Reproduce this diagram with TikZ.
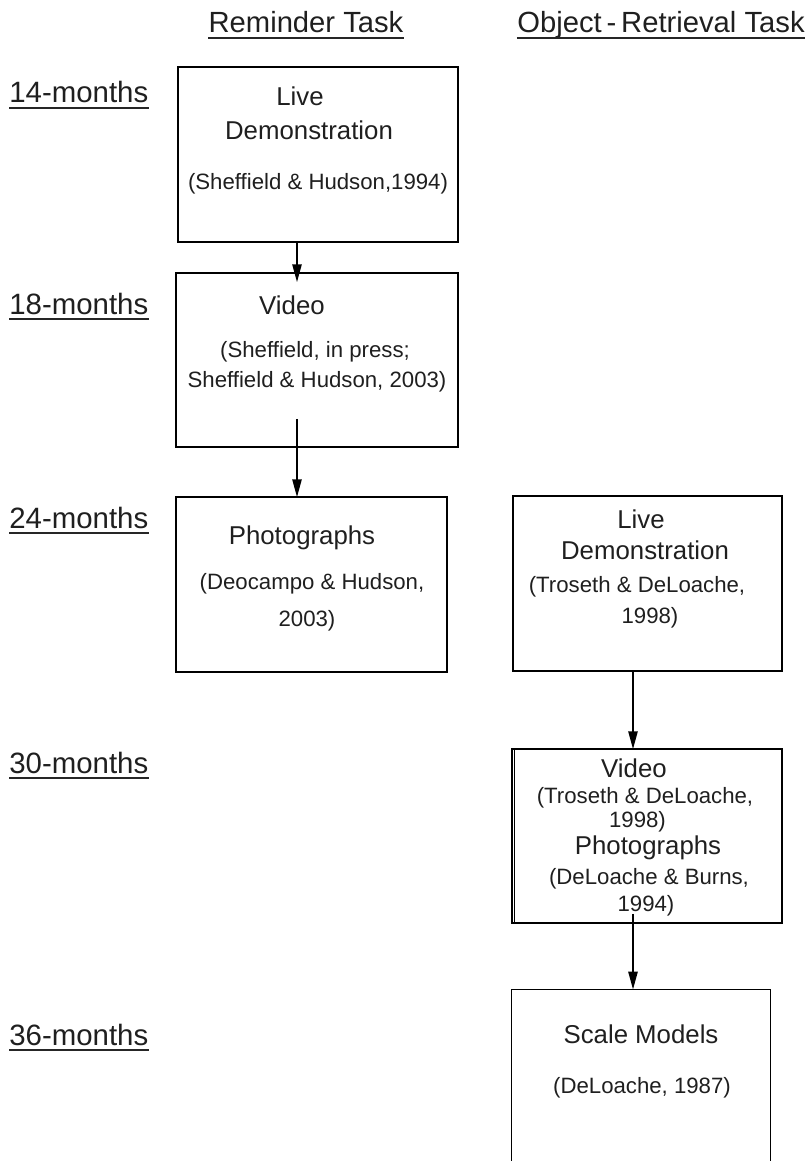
\documentclass[tikz,border=0pt]{standalone}
\usepackage{fontspec}
\setmainfont{Liberation Sans}
\usetikzlibrary{arrows.meta}
\begin{document}
\begin{tikzpicture}[x=0.5pt,y=-0.5pt,
  box/.style={draw, line width=0.75pt, inner sep=0pt},
  ttl/.style={font=\fontsize{12.9pt}{15pt}\selectfont, anchor=base, inner sep=0pt, text=black!88},
  cite/.style={font=\fontsize{11.1pt}{13pt}\selectfont, anchor=base, inner sep=0pt, text=black!88},
  head/.style={font=\fontsize{14.6pt}{17pt}\selectfont, anchor=base, inner sep=0pt, text=black!88},
  age/.style={font=\fontsize{14.7pt}{17pt}\selectfont, anchor=base west, inner sep=0pt, text=black!88},
  uline/.style={line width=1pt, black!85},
  arr/.style={line width=1pt, -{Triangle[length=9pt,width=4.6pt]}}]
\useasboundingbox (0,0) rectangle (809,1161);

% column headings
\node[head] (hrem) at (306,33) {Reminder Task};
\node[head] (hobj) at (661,33) {Object\,-\,Retrieval Task};
\draw[uline] ([yshift=-2.5pt]hrem.base west) -- ([yshift=-2.5pt]hrem.base east);
\draw[uline] ([yshift=-2.5pt]hobj.base west) -- ([yshift=-2.5pt]hobj.base east);

% age labels
\node[age] (m14) at (9,103) {14-months};
\node[age] (m18) at (9,314) {18-months};
\node[age] (m24) at (9,528) {24-months};
\node[age] (m30) at (9,773) {30-months};
\node[age] (m36) at (9,1045) {36-months};
\foreach \m in {m14,m18,m24,m30,m36}
  \draw[uline] ([yshift=-2.5pt]\m.base west) -- ([yshift=-2.5pt]\m.base east);

% reminder task boxes
\node[box, minimum width=140pt, minimum height=87.5pt] (b1) at (318,154.5) {};
\node[box, minimum width=141pt, minimum height=87pt] (b2) at (317,360) {};
\node[box, minimum width=135.5pt, minimum height=87.5pt] (b3) at (311.5,584.5) {};

\node[ttl] (b1a) at (300,105) {Live};
\node[ttl] (b1b) at (309,140) {Demonstration};
\node[cite] (b1c) at (318,189) {(Sheffield \& Hudson,1994)};

\node[ttl] (b2a) at (292,314) {Video};
\node[cite] (b2b) at (315,357) {(Sheffield, in press;};
\node[cite] (b2c) at (317,387) {Sheffield \& Hudson, 2003)};

\node[ttl] (b3a) at (302,544) {Photographs};
\node[cite] (b3b) at (312,589) {(Deocampo \& Hudson,};
\node[cite] (b3c) at (307,626) {2003)};

% object-retrieval task boxes
\node[box, minimum width=134.5pt, minimum height=87.5pt] (b4) at (647.5,583.5) {};
\node[box, minimum width=135pt, minimum height=87pt] (b5) at (647,836) {};
\draw[line width=0.75pt] ([xshift=1.5pt]b5.north west) -- ([xshift=1.5pt]b5.south west);
\node[inner sep=0pt, minimum width=129pt, minimum height=87.5pt] (b6) at (641,1077.5) {};
\draw[line width=0.75pt] (b6.south west) -- (b6.north west) -- (b6.north east) -- (b6.south east);

\node[ttl] (b4a) at (641,528) {Live};
\node[ttl] (b4b) at (645,559) {Demonstration};
\node[cite] (b4c) at (637,592) {(Troseth \& DeLoache,};
\node[cite] (b4d) at (650,623) {1998)};

\node[ttl] (b5a) at (634,777) {Video};
\node[cite] (b5b) at (645,803) {(Troseth \& DeLoache,};
\node[cite] (b5c) at (637.5,827) {1998)};
\node[ttl] (b5d) at (648,854) {Photographs};
\node[cite] (b5e) at (649,884) {(DeLoache \& Burns,};
\node[cite] (b5f) at (646,911) {1994)};

\node[ttl] (b6a) at (641,1043) {Scale Models};
\node[cite] (b6b) at (642,1093) {(DeLoache, 1987)};

% connectors
\draw[arr] ([xshift=-10.5pt]b1.south) -- ([xshift=-10pt,yshift=-5pt]b2.north);
\draw[arr] ([xshift=-10pt,yshift=14.5pt]b2.south) -- ([xshift=-7.25pt,yshift=-0.5pt]b3.north);
\draw[arr] ([xshift=-7.25pt]b4.south) -- ([xshift=-7pt,yshift=-0.5pt]b5.north);
\draw[arr] ([xshift=-7pt,yshift=5pt]b5.south) -- ([xshift=-4pt]b6.north);
\end{tikzpicture}
\end{document}
